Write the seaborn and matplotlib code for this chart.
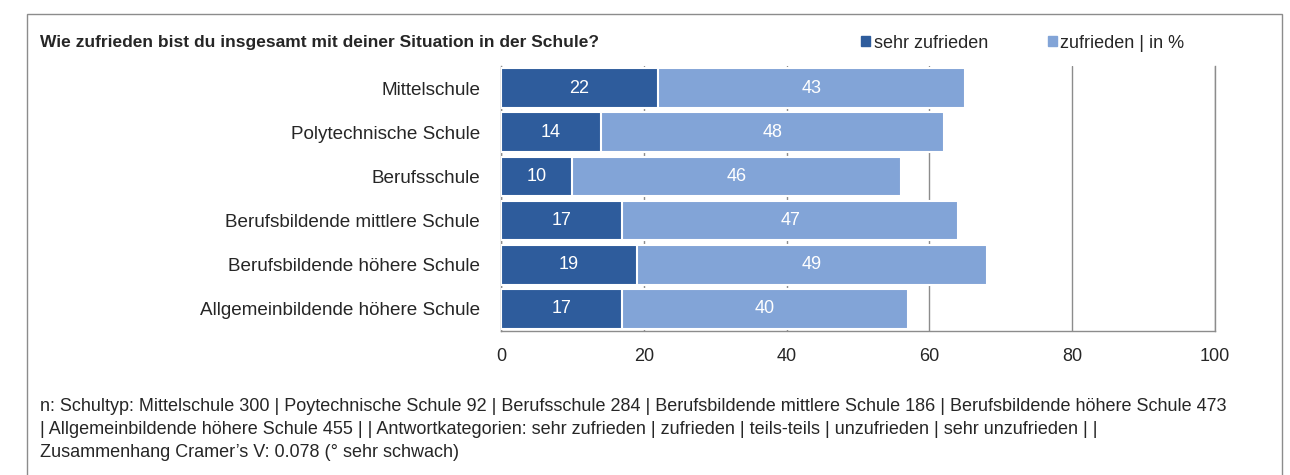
import numpy as np
import pandas as pd
import matplotlib
matplotlib.use("Agg")
import matplotlib.pyplot as plt
from matplotlib.patches import Rectangle, Patch
import seaborn as sns

# data
schools = ["Mittelschule", "Polytechnische Schule", "Berufsschule",
           "Berufsbildende mittlere Schule", "Berufsbildende höhere Schule",
           "Allgemeinbildende höhere Schule"]
sehr_zufrieden = [22, 14, 10, 17, 19, 17]
zufrieden = [43, 48, 46, 47, 49, 40]
x_ticks = [0, 20, 40, 60, 80, 100]

title = "Wie zufrieden bist du insgesamt mit deiner Situation in der Schule?"
footnote = ("n: Schultyp: Mittelschule 300 | Poytechnische Schule 92 | Berufsschule 284 | "
            "Berufsbildende mittlere Schule 186 | Berufsbildende höhere Schule 473\n"
            "| Allgemeinbildende höhere Schule 455 | | Antwortkategorien: sehr zufrieden | "
            "zufrieden | teils-teils | unzufrieden | sehr unzufrieden | |\n"
            "Zusammenhang Cramer’s V: 0.078 (° sehr schwach)")

dark = "#2E5C9C"
light = "#82A4D7"
grid_col = "#8C8C8C"

sns.set_theme(style="white")
plt.rcParams["font.family"] = ["Liberation Sans", "DejaVu Sans"]

df = pd.DataFrame({"school": schools, "sehr": sehr_zufrieden, "zuf": zufrieden})
df["total"] = df["sehr"] + df["zuf"]

fig = plt.figure(figsize=(12.9, 4.75), dpi=100)
ax = fig.add_axes([501 / 1290, 1 - 331 / 475, 714 / 1290, 265 / 475])

# stacked bars: total in light, first part in dark on top
sns.barplot(data=df, x="total", y="school", color=light, width=0.9, orient="h",
            saturation=1, edgecolor="white", linewidth=1.5, ax=ax, zorder=2)
sns.barplot(data=df, x="sehr", y="school", color=dark, width=0.9, orient="h",
            saturation=1, edgecolor="white", linewidth=1.5, ax=ax, zorder=3)

for i, row in df.iterrows():
    ax.text(row["sehr"] / 2, i, str(row["sehr"]), color="white", ha="center",
            va="center", fontsize=13, fontweight="medium", zorder=4)
    ax.text(row["sehr"] + row["zuf"] / 2, i, str(row["zuf"]), color="white",
            ha="center", va="center", fontsize=13, fontweight="medium", zorder=4)

ax.set_xlim(0, 100)
ax.set_xticks(x_ticks)
ax.set_xlabel("")
ax.set_ylabel("")
ax.tick_params(axis="x", labelsize=13, pad=12, length=0)
ax.tick_params(axis="y", labelsize=13.6, pad=15, length=0)
ax.xaxis.grid(True, color=grid_col, linewidth=1)
ax.set_axisbelow(True)
ax.spines["top"].set_visible(False)
for s in ["left", "bottom", "right"]:
    ax.spines[s].set_color(grid_col)
    ax.spines[s].set_linewidth(1)

# title and legend
fig.text(40 / 1290, 1 - 43 / 475, title, fontsize=12.5, fontweight="bold",
         va="center", ha="left")
handles = [Patch(color=dark), Patch(color=light)]
fig.legend(handles, ["sehr zufrieden", "zufrieden | in %"], loc="center left",
           bbox_to_anchor=(845 / 1290, 1 - 43 / 475), ncol=2, frameon=False,
           fontsize=13, handlelength=0.5, handleheight=0.5, handletextpad=0.2,
           columnspacing=3.3)

fig.text(40 / 1290, 1 - 398 / 475, footnote, fontsize=13, va="top", ha="left",
         linespacing=1.45)

# outer frame
fig.patches.append(Rectangle((27 / 1290, -0.02), 1255 / 1290, 1.02 - 14 / 475,
                             transform=fig.transFigure, fill=False,
                             edgecolor=grid_col, linewidth=1))

fig.savefig("out.png", dpi=100)
